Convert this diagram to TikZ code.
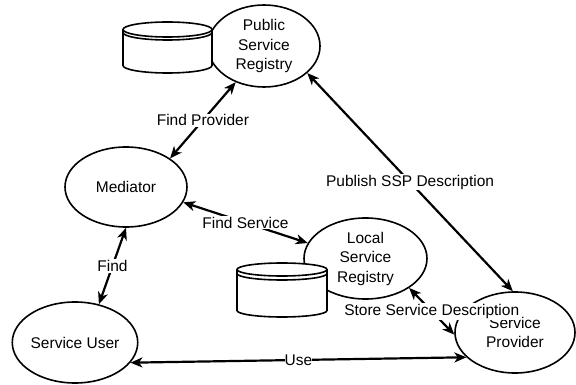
\documentclass[tikz,border=0pt]{standalone}
\usepackage{fontspec}
\setmainfont{Liberation Sans}
\usetikzlibrary{arrows.meta,shapes.geometric}
\begin{document}
\begin{tikzpicture}[x=1pt,y=1pt,
  txt/.style={font=\fontsize{15.5}{19.5}\selectfont},
  entity/.style={ellipse, draw, line width=1.6pt, fill=white, inner sep=0pt, align=center, txt},
  link/.style={line width=2.2pt, {Stealth[length=12pt,width=10pt,inset=3.5pt]}-{Stealth[length=12pt,width=10pt,inset=3.5pt]}},
  lbl/.style={fill=white, inner sep=1pt, txt},
  store/.style={line width=1.6pt, fill=white},
]
\useasboundingbox (0,0) rectangle (576,-385);

% participants
\node[entity, minimum width=112, minimum height=82] (pub) at (264,-46) {Public\\Service\\Registry};
\node[entity, minimum width=122, minimum height=80] (med) at (126,-187) {Mediator};
\node[entity, minimum width=123, minimum height=81] (loc) at (365.5,-258.5) {Local\\Service\\Registry};
\node[entity, minimum width=120, minimum height=81] (prov) at (515,-332.5) {Service\\Provider};
\node[entity, minimum width=124, minimum height=81] (user) at (75,-342.5) {Service User};

% data stores beside the registries
\filldraw[store] (123,-29.5) -- (123,-65.5) arc[start angle=180,end angle=360,x radius=44.5,y radius=7.5]
  -- (212,-29.5) arc[start angle=0,end angle=180,x radius=44.5,y radius=7.5] -- cycle;
\draw[store, fill=none] (123,-29.5) arc[start angle=180,end angle=360,x radius=44.5,y radius=7.5];
\draw[store, fill=none] (123,-32.5) arc[start angle=180,end angle=360,x radius=44.5,y radius=7.5];

\filldraw[store] (237,-269.5) -- (237,-310.5) arc[start angle=180,end angle=360,x radius=45,y radius=6.5]
  -- (327,-269.5) arc[start angle=0,end angle=180,x radius=45,y radius=6.5] -- cycle;
\draw[store, fill=none] (237,-269.5) arc[start angle=180,end angle=360,x radius=45,y radius=6.5];
\draw[store, fill=none] (237,-273.5) arc[start angle=180,end angle=360,x radius=45,y radius=6.5];

% interactions
\draw[link] (pub.232) -- node[lbl] {Find Provider} (med.33);
\draw[link] (pub.328) -- node[lbl] {Publish SSP Description} (prov.93);
\draw[link] (med.345) -- node[lbl] {Find Service} (loc.165);
\draw[link] (med.270) -- node[lbl] {Find} (user.58);
\draw[link] (user.340.5) -- node[lbl, inner xsep=-0.5pt, inner ysep=0pt] {Use} (prov.207);
\draw[link] (loc.326.5) -- node[lbl] {Store Service Description} (prov.182);
\end{tikzpicture}
\end{document}
